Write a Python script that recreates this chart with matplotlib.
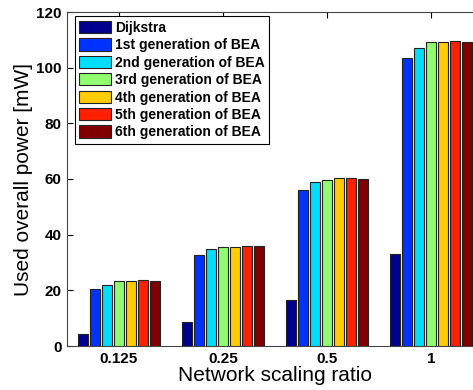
import numpy as np
import matplotlib
matplotlib.use("Agg")
import matplotlib.pyplot as plt

plt.rcParams['font.family'] = ['Liberation Sans', 'DejaVu Sans']

# data
ratios = ["0.125", "0.25", "0.5", "1"]
series = ["Dijkstra", "1st generation of BEA", "2nd generation of BEA",
          "3rd generation of BEA", "4th generation of BEA",
          "5th generation of BEA", "6th generation of BEA"]
dijkstra = [4.3, 8.5, 16.6, 33.0]
gen1 = [20.5, 32.7, 55.9, 103.4]
gen2 = [22.0, 34.7, 59.0, 107.2]
gen3 = [23.3, 35.5, 59.8, 109.3]
gen4 = [23.3, 35.5, 60.5, 109.3]
gen5 = [23.6, 35.8, 60.3, 109.7]
gen6 = [23.5, 35.8, 60.0, 109.3]
values = [dijkstra, gen1, gen2, gen3, gen4, gen5, gen6]
colors = ["#00008f", "#0033ff", "#00ddff", "#8fff6f", "#ffcc00", "#ff2000", "#800000"]

fig = plt.figure(figsize=(4.73, 3.90), dpi=100)
ax = fig.add_axes([67/473, 44/390, 416/473, 334/390])

x = np.arange(1, len(ratios) + 1)
slot = 0.8 / len(series)
for i, (name, vals, c) in enumerate(zip(series, values, colors)):
    pos = x - 0.4 + slot * (i + 0.5)
    ax.bar(pos, vals, width=slot * 0.82, color=c, edgecolor="#222222",
           linewidth=0.8, label=name, zorder=3)

ax.set_xlim(0.5, 4.5)
ax.set_ylim(0, 120)
ax.set_xticks(x)
ax.set_xticklabels(ratios)
ax.set_yticks(np.arange(0, 121, 20))
ax.tick_params(direction="in", top=True, right=True, length=4, width=0.8,
               labelsize=11, pad=4)
for lab in ax.get_xticklabels() + ax.get_yticklabels():
    lab.set_fontweight("bold")
for s in ax.spines.values():
    s.set_color("#444444")

ax.set_xlabel("Network scaling ratio", fontsize=15, labelpad=0.5)
ax.set_ylabel("Used overall power [mW]", fontsize=15, labelpad=2)

leg = ax.legend(loc="upper left", bbox_to_anchor=(0.012, 0.995), fancybox=False,
                edgecolor="black", framealpha=1, prop={"weight": "bold", "size": 10},
                handlelength=2.3, handleheight=1.0, labelspacing=0.25,
                handletextpad=0.3, borderpad=0.3, borderaxespad=0.2)
leg.get_frame().set_linewidth(0.8)

fig.savefig("out.png", dpi=100)
